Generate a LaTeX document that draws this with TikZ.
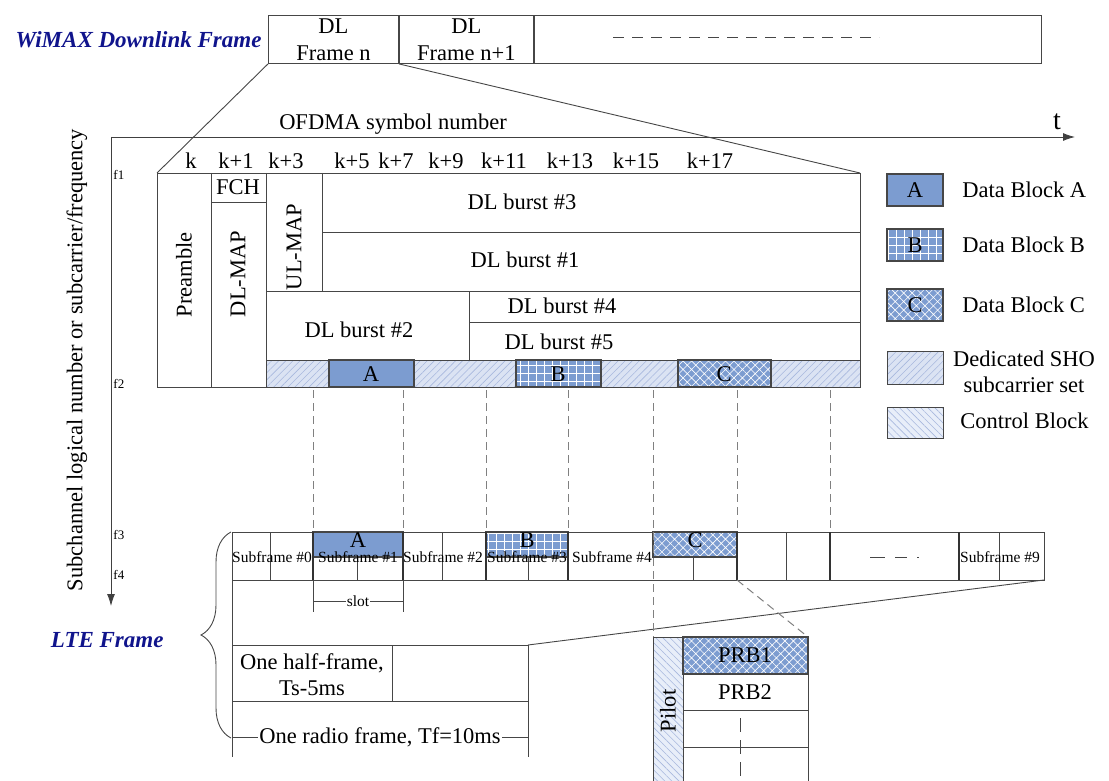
\documentclass[tikz,border=0pt]{standalone}
\usepackage{fontspec}
\setmainfont{Liberation Serif}
\usepackage{xcolor}
\usepackage{tikz}
\usetikzlibrary{positioning, arrows.meta, patterns.meta, decorations.pathreplacing}

\definecolor{navy}{RGB}{16,20,140}
\definecolor{linegray}{RGB}{70,70,70}
\definecolor{blockblue}{RGB}{124,156,208}
\definecolor{shofill}{RGB}{219,227,243}
\definecolor{sholine}{RGB}{168,184,222}
\definecolor{ctrlfill}{RGB}{232,238,249}

\begin{document}
\begin{tikzpicture}[x=1pt,y=-1pt,color=linegray,line width=0.9pt,
    font=\fontsize{22.5}{27}\selectfont,
    every node/.append style={text=black,inner sep=0pt},
    title/.style={font=\fontsize{23}{27}\selectfont\bfseries\itshape,text=navy},
    small/.style={font=\fontsize{15.5}{18}\selectfont},
    tiny/.style={font=\fontsize{13}{15}\selectfont},
    cell/.style={draw,minimum height=48pt,align=center},
    proj/.style={dash pattern=on 8pt off 5pt,line width=1pt,gray},
    bar/.style={line width=2.4pt,black!80},
    axis/.style={-{Latex[length=12pt,width=8pt]},black!75},
    blkA/.style={draw,line width=1.3pt,fill=blockblue},
    blkB/.style={draw,line width=1.3pt,preaction={fill=blockblue},
        pattern={Hatch[angle=0,distance=8pt,line width=0.7pt]},pattern color=white},
    blkC/.style={draw,line width=1.3pt,preaction={fill=blockblue},
        pattern={Hatch[angle=45,distance=6pt,line width=0.6pt]},pattern color=white},
    sho/.style={draw,preaction={fill=shofill},
        pattern={Lines[angle=45,distance=5pt,line width=0.6pt]},pattern color=sholine},
    ctrl/.style={draw,preaction={fill=ctrlfill},
        pattern={Lines[angle=-45,distance=5pt,line width=0.6pt]},pattern color=sholine}]

\useasboundingbox (0,0) rectangle (1109,781);
\clip (0,0) rectangle (1109,781);

% WiMAX frame sequence
\node[title,anchor=east] (wmx) at (262,40) {WiMAX Downlink Frame};
\node[cell,anchor=north west,minimum width=130pt] (fn) at (268,15) {DL\\Frame n};
\node[cell,minimum width=134pt,right=0pt of fn] (fn1) {DL\\Frame n+1};
\node[cell,minimum width=507pt,right=0pt of fn1] (frest) {};
\draw[dash pattern=on 11pt off 8pt] (613,37) -- (879,37);

% axes
\coordinate (org) at (111,137);
\draw[axis] (org) -- (1075,137);
\draw[axis] (org) -- (111,606);
\node[font=\fontsize{28}{30}\selectfont] (tlab) at (1057,122) {t};
\node (ofdma) at (393,124) {OFDMA symbol number};
\node[rotate=90] (ylab) at (77,360) {Subchannel logical number or subcarrier/frequency};
\foreach \f/\y in {f1/175,f2/384,f3/535,f4/575}
    \node[tiny,anchor=west] (\f) at (113,\y) {\f};
\foreach \k/\x in {k/191,k+1/236,k+3/286,k+5/352,k+7/396,k+9/446,k+11/504,k+13/570,k+15/636,k+17/710}
    \node[anchor=base] at (\x,168) {\k};

% DL frame n
\coordinate (wtl) at (157,173);
\coordinate (wtr) at (860,173);
\draw[sho] (266,360) rectangle (860,387);
\draw[blkA] (329,360) rectangle (414,387);
\draw[blkB] (516,360) rectangle (601,387);
\draw[blkC] (678,360) rectangle (771,387);
\draw (wtl) rectangle (860,387);
\draw (211,173) -- (211,387) (266,173) -- (266,387) (211,202) -- (266,202)
      (322,173) -- (322,291) (322,232) -- (860,232) (266,291) -- (860,291)
      (469,291) -- (469,360) (469,322) -- (860,322) (266,360) -- (860,360);
\node[rotate=90] (pre) at (184,275) {Preamble};
\node (fch) at (238,187) {FCH};
\node[rotate=90] (dlmap) at (238,274) {DL-MAP};
\node[rotate=90] (ulmap) at (294,247) {UL-MAP};
\node (b3) at (522,202) {DL burst \#3};
\node (b1) at (525,260) {DL burst \#1};
\node (b4) at (562,306) {DL burst \#4};
\node (b5) at (559,342) {DL burst \#5};
\node (b2) at (359,330) {DL burst \#2};
\node (sa) at (371,374) {A};
\node (sb) at (558,374) {B};
\node (sc) at (724,374) {C};
\draw (fn.south west) -- (wtl) (fn.south east) -- (wtr);

% legend
\foreach \st/\lt/\y/\txt in {blkA/A/190/Data Block A,blkB/B/245/Data Block B,blkC/C/305/Data Block C}{
    \draw[\st] (887,\y-16) rectangle (943,\y+16);
    \node at (915,\y) {\lt};
    \node[anchor=west] at (962,\y) {\txt};
}
\draw[sho] (887,351) rectangle (943,384);
\node[align=center,font=\fontsize{22.5}{26}\selectfont] (legsho) at (1024,372) {Dedicated SHO\\subcarrier set};
\draw[ctrl] (887,407) rectangle (943,438);
\node[anchor=west] (legctrl) at (960,421) {Control Block};

% projections onto LTE
\foreach \x [count=\i] in {313,403,486,568,653,737,830}{
    \coordinate (up\i) at (\x,390);
    \coordinate (dn\i) at (\x,532);
    \draw[proj] (up\i) -- (dn\i);
}

% LTE frame
\node[title,anchor=east] (lte) at (164,640) {LTE Frame};
\draw[blkA] (313,532) rectangle (403,557);
\draw[blkB] (486,532) rectangle (568,557);
\draw[blkC] (653,532) rectangle (737,557);
\draw (232,532) rectangle (1044,580);
\foreach \x in {270,442,786,999} \draw (\x,532) -- (\x,580);
\foreach \x in {357,528,693} \draw (\x,557) -- (\x,580);
\foreach \x in {313,403,486,568,737,830,959} \draw[bar] (\x,532) -- (\x,580);
\node (la) at (358,540) {A};
\node (lb) at (527,540) {B};
\node (lc) at (695,540) {C};
\foreach \n/\x in {0/272,1/358,2/443,3/527,4/612,9/1000}
    \node[small] (sf\n) at (\x,557) {Subframe \#\n};
\draw[dash pattern=on 15pt off 10pt on 12pt off 10pt on 2pt off 20pt] (870,557) -- (920,557);

% slot
\draw (313,580) -- (313,612) (403,580) -- (403,612);
\draw (313,601) -- node[small,fill=white,inner xsep=1pt] (slot) {slot} (403,601);

% frame durations
\coordinate (rowbr) at (1044,580);
\coordinate (halftr) at (528,645);
\draw (232,580) -- (232,757);
\draw (232,645) -- (halftr) -- (528,757) (232,701) -- (528,701) (392,645) -- (392,701);
\node[align=center,font=\fontsize{22.5}{26}\selectfont] (half) at (312,675) {One half-frame,\\Ts-5ms};
\draw (232,737) -- node[fill=white,inner xsep=1pt] (radio) {One radio frame, Tf=10ms} (528,737);
\draw (rowbr) -- (halftr);
\draw[decorate,decoration={brace,amplitude=30pt}] (231,738) -- (231,532);

% resource blocks
\coordinate (prbtr) at (808,637);
\draw[proj] (dn5) -- (653,637);
\draw[proj] (737,580) -- (prbtr);
\draw[ctrl] (653,637) rectangle (683,795);
\draw[blkC] (683,637) rectangle (prbtr |- 0,674);
\draw (808,674) -- (808,795) (683,710) -- (808,710) (683,747) -- (808,747);
\node (prb1) at (745,655) {PRB1};
\node (prb2) at (745,692) {PRB2};
\node[rotate=90] (pilot) at (668,711) {Pilot};
\draw[dash pattern=on 14pt off 8pt] (740,718) -- (740,785);
\end{tikzpicture}
\end{document}
